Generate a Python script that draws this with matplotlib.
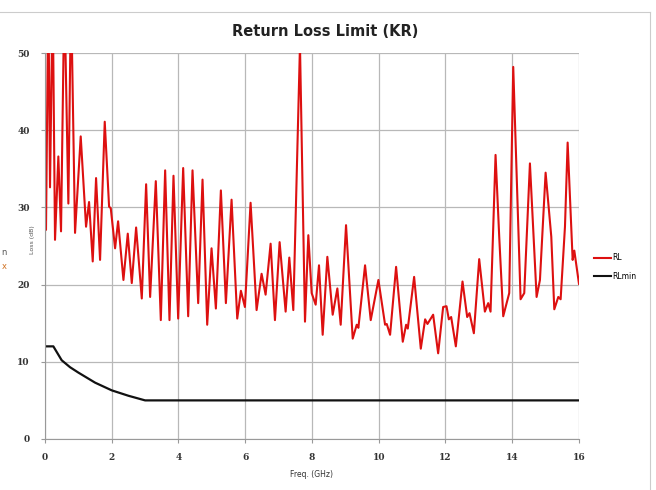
import matplotlib
matplotlib.use("Agg")
import matplotlib.pyplot as plt
from matplotlib.lines import Line2D

# RL trace (peaks / troughs / shoulders)
rl_freq = [0.0, 0.03, 0.1, 0.15, 0.23, 0.3, 0.4, 0.48, 0.58, 0.7, 0.78, 0.9,
           1.07, 1.23, 1.32, 1.43, 1.53, 1.65, 1.79, 1.92, 1.97, 2.1, 2.19,
           2.35, 2.48, 2.6, 2.73, 2.9, 3.03, 3.15, 3.32, 3.47, 3.6, 3.73,
           3.85, 3.99, 4.14, 4.29, 4.42, 4.59, 4.72, 4.86, 4.99, 5.12, 5.27,
           5.42, 5.59, 5.76, 5.87, 5.99, 6.16, 6.34, 6.49, 6.61, 6.76, 6.89,
           7.03, 7.21, 7.32, 7.44, 7.64, 7.79, 7.89, 7.99, 8.11, 8.21, 8.32,
           8.46, 8.62, 8.76, 8.86, 9.02, 9.22, 9.34, 9.39, 9.59, 9.76, 9.99,
           10.19, 10.24, 10.34, 10.52, 10.72, 10.82, 10.87, 11.06, 11.26,
           11.39, 11.46, 11.63, 11.78, 11.93, 12.03, 12.1, 12.17, 12.31,
           12.51, 12.65, 12.72, 12.85, 13.01, 13.18, 13.28, 13.35, 13.5,
           13.61, 13.73, 13.91, 14.03, 14.25, 14.36, 14.53, 14.73, 14.83,
           15.0, 15.17, 15.26, 15.38, 15.45, 15.58, 15.66, 15.81, 15.86, 16.0]
rl_db = [27.0, 27.1, 58.0, 32.6, 58.0, 25.8, 36.6, 26.9, 58.0, 30.5, 58.0,
         26.7, 39.2, 27.5, 30.7, 23.0, 33.8, 23.2, 41.1, 30.1, 29.9, 24.7,
         28.2, 20.6, 26.6, 20.2, 27.4, 18.2, 33.0, 18.4, 33.4, 15.4, 34.8,
         15.4, 34.1, 15.6, 35.1, 15.9, 34.8, 17.6, 33.6, 14.8, 24.7, 16.9,
         32.2, 17.6, 31.0, 15.6, 19.2, 17.1, 30.6, 16.7, 21.4, 18.7, 25.3,
         15.4, 25.5, 16.5, 23.5, 16.7, 51.0, 15.2, 26.4, 18.9, 17.4, 22.5,
         13.5, 23.6, 16.1, 19.5, 14.8, 27.7, 13.0, 14.8, 14.4, 22.5, 15.4,
         20.6, 14.8, 14.9, 13.5, 22.3, 12.6, 14.8, 14.3, 21.0, 11.7, 15.5,
         14.9, 16.1, 11.1, 17.1, 17.2, 15.5, 15.8, 12.0, 20.4, 15.8, 16.3,
         13.7, 23.3, 16.5, 17.6, 16.5, 36.8, 26.2, 15.9, 18.9, 48.2, 18.1,
         18.9, 35.7, 18.4, 20.6, 34.5, 26.2, 16.8, 18.4, 18.1, 27.5, 38.4,
         23.2, 24.4, 20.1]

# RLmin limit line
lim_freq = [0.0, 0.25, 0.5, 0.75, 1.0, 1.5, 2.0, 2.5, 3.0, 16.0]
lim_db = [12.0, 12.0, 10.2, 9.3, 8.6, 7.3, 6.3, 5.6, 5.0, 5.0]

x_ticks = list(range(0, 17, 2))
y_ticks = list(range(0, 51, 10))

fig = plt.figure(figsize=(6.56, 4.90), dpi=100)
ax = fig.add_axes([0.0686, 0.1041, 0.8140, 0.7877])

ax.plot(rl_freq, rl_db, color="#dd1010", lw=1.5, solid_joinstyle="round")
ax.plot(lim_freq, lim_db, color="#111111", lw=1.6)

ax.set_xlim(0, 16)
ax.set_ylim(0, 50)
ax.set_xticks(x_ticks)
ax.set_yticks(y_ticks)
ax.grid(True, color="#b8b8b8", lw=0.9)
ax.set_axisbelow(True)
for s in ["top", "right"]:
    ax.spines[s].set_visible(False)
for s in ["left", "bottom"]:
    ax.spines[s].set_color("#999999")
ax.tick_params(length=3, color="#999999", labelsize=6.5, labelcolor="#333333")
for lab in ax.get_xticklabels() + ax.get_yticklabels():
    lab.set_family("DejaVu Serif")
    lab.set_fontweight("bold")
ax.tick_params(axis="x", pad=7)
ax.tick_params(axis="y", pad=8)

ax.set_xlabel("Freq. (GHz)", fontsize=5.5, color="#333333", labelpad=6)
fig.text(0.049, 0.51, "Loss (dB)", rotation=90, fontsize=4.5, color="#555555",
         ha="center", va="center")

fig.text(0.496, 0.935, "Return Loss Limit (KR)", fontsize=10.5, fontweight="bold",
         color="#222222", ha="center", va="center")

# legend outside to the right
handles = [Line2D([], [], color="#dd1010", lw=1.5),
           Line2D([], [], color="#111111", lw=1.5)]
fig.legend(handles, ["RL", "RLmin"], loc="center left", bbox_to_anchor=(0.895, 0.455),
           frameon=False, fontsize=5.5, handlelength=2.2, handletextpad=0.2,
           labelspacing=1.2)

# bits of the screenshot frame
fig.add_artist(Line2D([0.0, 0.991], [0.976, 0.976], color="#cccccc", lw=0.8))
fig.add_artist(Line2D([0.991, 0.991], [0.0, 0.976], color="#cccccc", lw=0.8))
fig.text(0.002, 0.48, "n", fontsize=6, color="#555555")
fig.text(0.002, 0.452, "x", fontsize=6, color="#d07020")

fig.savefig("out.png", dpi=100)
